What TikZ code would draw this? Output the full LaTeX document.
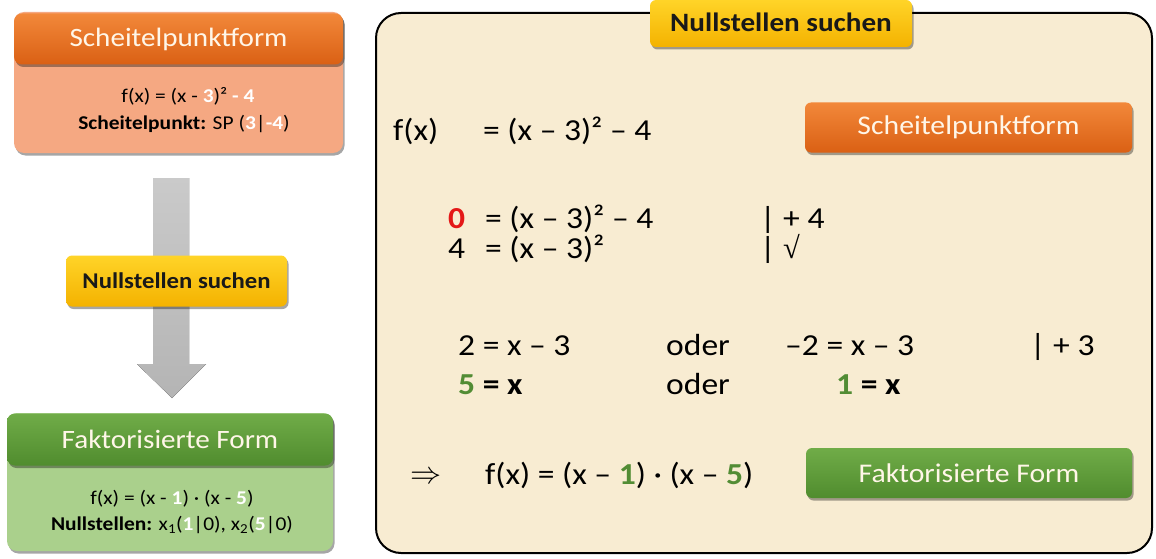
\documentclass[tikz,border=0pt]{standalone}
\usepackage{fontspec}
\setmainfont[FakeStretch=1.1]{Carlito}
\newfontfamily\radfont{Liberation Serif}
\usetikzlibrary{shadows}
\definecolor{orL}{RGB}{242,136,58}
\definecolor{orD}{RGB}{218,96,20}
\definecolor{salmon}{RGB}{245,168,130}
\definecolor{grL}{RGB}{112,172,72}
\definecolor{grD}{RGB}{80,140,46}
\definecolor{grBody}{RGB}{170,208,140}
\definecolor{yeL}{RGB}{255,212,40}
\definecolor{yeD}{RGB}{244,178,0}
\definecolor{beige}{RGB}{248,236,210}
\definecolor{arrowgray}{RGB}{196,196,196}
\definecolor{zeroRed}{RGB}{228,24,24}
\definecolor{numGreen}{RGB}{82,140,52}
\definecolor{cream}{RGB}{255,246,232}
\newcommand{\fsz}[1]{\fontsize{#1}{#1}\selectfont}
\newcommand{\wb}[1]{\textcolor{white}{\textbf{#1}}}
\newcommand{\gb}[1]{\textcolor{numGreen}{\textbf{#1}}}
\begin{document}
\begin{tikzpicture}[x=1pt,y=-1pt,
  shadowed/.style={drop shadow={shadow xshift=1.5pt,shadow yshift=-2.5pt,opacity=0.35,fill=black}},
  cardbody/.style={rounded corners=10pt,inner sep=0pt,shadowed},
  cardhead/.style={rounded corners=8pt,inner sep=0pt,text=cream,font=\fsz{26.5},shadowed},
  orangehead/.style={cardhead,top color=orL,bottom color=orD},
  greenhead/.style={cardhead,top color=grL,bottom color=grD},
  yellowbox/.style={rounded corners=6pt,inner sep=0pt,top color=yeL,bottom color=yeD,shadowed},
  cardtext/.style={anchor=base,inner sep=0pt,font=\fsz{19.5}},
  txt/.style={anchor=base west,inner sep=0pt,font=\fsz{30.5}},
]
\useasboundingbox (0,0) rectangle (1156,559);
\fill[white] (0,0) rectangle (1156,559);

% ---- left top card
\node[cardbody,fill=salmon,minimum width=329pt,minimum height=141pt] (c1body) at (178.5,82.5) {};
\node[orangehead,minimum width=329pt,minimum height=51pt] (c1head) at (178.5,39) {Scheitelpunktform};
\node[cardtext] (c1l1) at (188,103) {f(x) = (x - \wb{3})² \wb{- 4}};
\node[cardtext] (c1l2) at (184,129) {\textbf{Scheitelpunkt:} SP (\wb{3}|\wb{-4})};

% ---- big arrow
\fill[top color=arrowgray!90!white,bottom color=arrowgray!92!black]
  (153,178) -- (189,178) -- (189,364) -- (206,364) -- (172,398) -- (137,364) -- (153,364) -- cycle;

% ---- left yellow box
\node[yellowbox,minimum width=221pt,minimum height=51pt] (ybox) at (176.5,281) {};
\node[anchor=base,inner sep=0pt,font=\fsz{22.5}\bfseries,text=black!90] (yboxt) at (ybox.center |- 0,288) {Nullstellen suchen};

% ---- left bottom card
\node[cardbody,fill=grBody,minimum width=326pt,minimum height=138pt] (c2body) at (170,482) {};
\node[greenhead,minimum width=326pt,minimum height=52pt] (c2head) at (170,439.5) {Faktorisierte Form};
\node[cardtext] (c2l1) at (172,504) {f(x) = (x - \wb{1}) · (x - \wb{5})};
\node[cardtext] (c2l2) at (172,530) {\textbf{Nullstellen:} x\textsubscript{1}(\wb{1}|0), x\textsubscript{2}(\wb{5}|0)};

% ---- right panel
\node[draw=black,line width=2pt,fill=beige,rounded corners=25pt,inner sep=0pt,
      minimum width=776pt,minimum height=540pt] (panel) at (764,283) {};
\node[yellowbox,minimum width=262pt,minimum height=47pt] (tag) at (781,23.5) {};
\node[anchor=base,inner sep=0pt,font=\fsz{26.5}\bfseries,text=black!90] (tagt) at (tag.center |- 0,32) {Nullstellen suchen};

\node[orangehead,rounded corners=6pt,font=\fsz{27},minimum width=327pt,minimum height=50pt] (spbtn) at (968.5,127.5) {Scheitelpunktform};
\node[greenhead,rounded corners=6pt,font=\fsz{27},minimum width=326pt,minimum height=50pt] (ffbtn) at (969,473) {Faktorisierte Form};

% ---- equations
\node[txt] (l1a) at (393,140) {f(x)};
\node[txt] (l1b) at (483,140) {= (x – 3)² – 4};

\node[txt] (l2a) at (448,228) {\textcolor{zeroRed}{\textbf{0}}};
\node[txt] (l2b) at (485,228) {= (x – 3)² – 4};
\node[txt] (l2c) at (760,228) {| + 4};

\node[txt] (l3a) at (448,258.5) {4};
\node[txt] (l3b) at (485,258.5) {= (x – 3)²};
\node[txt] (l3c) at (760,258.5) {| {\radfont √}};

\node[txt] (l4a) at (458,355) {2 = x – 3};
\node[txt] (l4b) at (666,355) {oder};
\node[txt] (l4c) at (785,355) {–2 = x – 3};
\node[txt] (l4d) at (1030,355) {| + 3};

\node[txt] (l5a) at (458,394) {\gb{5} \textbf{= x}};
\node[txt] (l5b) at (666,394) {oder};
\node[txt] (l5c) at (836,394) {\gb{1} \textbf{= x}};

\node[txt] (l6a) at (410,483) {\scalebox{1.25}{$\Rightarrow$}};
\node[txt] (l6b) at (485,484) {f(x) = (x – \gb{1}) · (x – \gb{5})};
\end{tikzpicture}
\end{document}
